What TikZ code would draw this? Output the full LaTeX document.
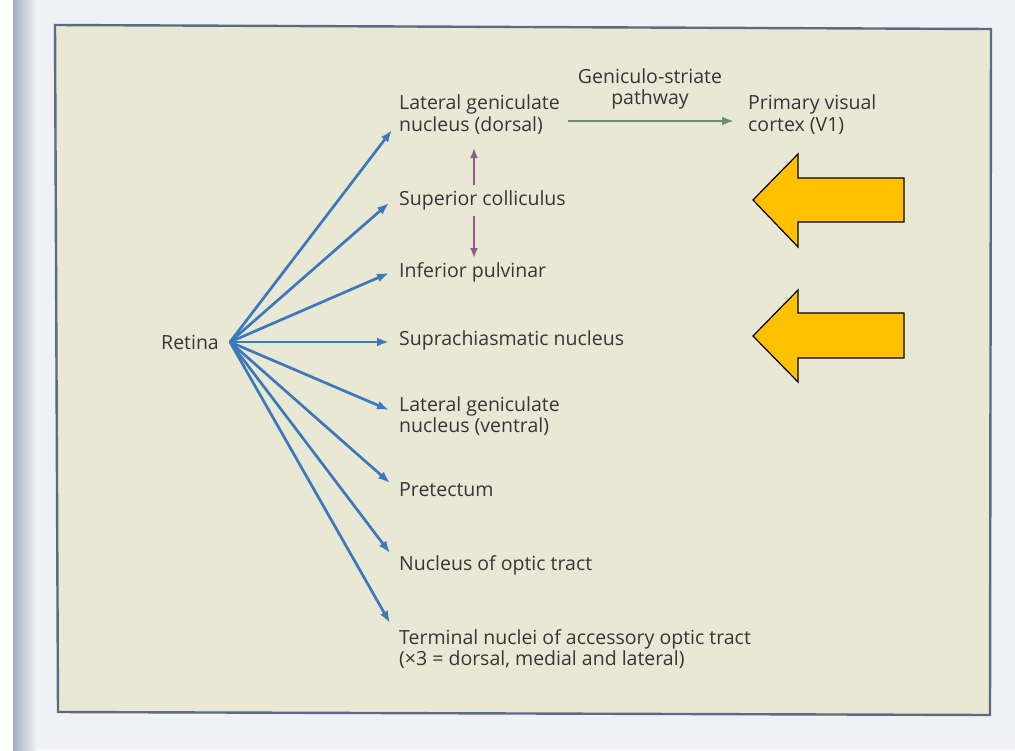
\documentclass[tikz,border=0pt]{standalone}
\usepackage{fontspec}
\setmainfont{Open Sans}
\usetikzlibrary{arrows.meta}
\definecolor{pagebg}{HTML}{EFF1F7}
\definecolor{strip}{HTML}{A3AEC0}
\definecolor{cream}{HTML}{E9E8D5}
\definecolor{framec}{HTML}{5E6A82}
\definecolor{txt}{HTML}{363636}
\definecolor{blueA}{HTML}{3B79BA}
\definecolor{greenA}{HTML}{6A8F6E}
\definecolor{purpA}{HTML}{8C5E86}
\definecolor{yell}{HTML}{FFC000}
\tikzset{
  lbl/.style={anchor=west, inner sep=0pt, text=txt, font=\fontsize{19.5}{21.5}\selectfont, align=left},
  proj/.style={draw=blueA, line width=2.7pt, -{Latex[length=12pt,width=9pt]}},
  gen/.style={draw=greenA, line width=2.7pt, -{Latex[length=12pt,width=9pt]}},
  inter/.style={draw=purpA, line width=2.3pt, -{Latex[length=10pt,width=8pt]}},
  bigarrow/.style={fill=yell, draw=black, line width=1.2pt, line join=miter}
}
\begin{document}
\begin{tikzpicture}[x=1pt,y=-1pt]
\useasboundingbox (0,0) rectangle (1015,750);
% page background
\fill[pagebg] (0,0) rectangle (1015,750);
\fill[white] (0,0) rectangle (13,750);
\shade[left color=strip, right color=pagebg] (13,0) rectangle (36,750);
% frame
\filldraw[fill=cream, draw=framec, line width=2.4pt] (55,25) -- (991,29) -- (990,715) -- (58,712) -- cycle;

% nodes
\node[lbl] (ret) at (161,342) {Retina};
\coordinate (hub) at (230,342);

\node[lbl] (lgnd) at (399,114.5) {Lateral geniculate\\nucleus (dorsal)};
\node[lbl] (sc) at (399,200) {Superior colliculus};
\node[lbl] (ip) at (399,272) {Inferior pulvinar};
\node[lbl] (scn) at (399,340) {Suprachiasmatic nucleus};
\node[lbl] (lgnv) at (399,416) {Lateral geniculate\\nucleus (ventral)};
\node[lbl] (pt) at (399,490) {Pretectum};
\node[lbl] (not) at (399,565) {Nucleus of optic tract};
\node[lbl] (aot) at (399,649) {Terminal nuclei of accessory optic tract\\(×3 = dorsal, medial and lateral)};
\node[lbl, anchor=center, align=center] (gsp) at (650,89) {Geniculo-striate\\pathway};
\node[lbl] (v1) at (748,114.5) {Primary visual\\cortex (V1)};

% arrow tip coordinates
\coordinate (t1) at (392,130);
\coordinate (t2) at (389,203);
\coordinate (t3) at (389,273);
\coordinate (t4) at (389,342);
\coordinate (t5) at (389,410);
\coordinate (t6) at (390,483);
\coordinate (t7) at (390,553);
\coordinate (t8) at (390,623);

\foreach \t in {t1,t2,t3,t4,t5,t6,t7,t8}
  \draw[proj] (hub) -- (\t);

% geniculo-striate arrow
\coordinate (g0) at (568,121);
\coordinate (g1) at (734,121);
\draw[gen] (g0) -- (g1);

% superior colliculus up/down
\coordinate (su) at (474,185);
\coordinate (sut) at (474,148);
\coordinate (sd) at (474,216);
\coordinate (sdt) at (474,258);
\draw[inter] (su) -- (sut);
\draw[inter] (sd) -- (sdt);

% yellow block arrows
\filldraw[bigarrow] (753,200) -- (798,154) -- (798,178) -- (904,178) -- (904,222) -- (798,222) -- (798,247) -- cycle;
\filldraw[bigarrow] (753,336) -- (798,290) -- (798,313) -- (904,313) -- (904,358) -- (798,358) -- (798,382) -- cycle;
\end{tikzpicture}
\end{document}
